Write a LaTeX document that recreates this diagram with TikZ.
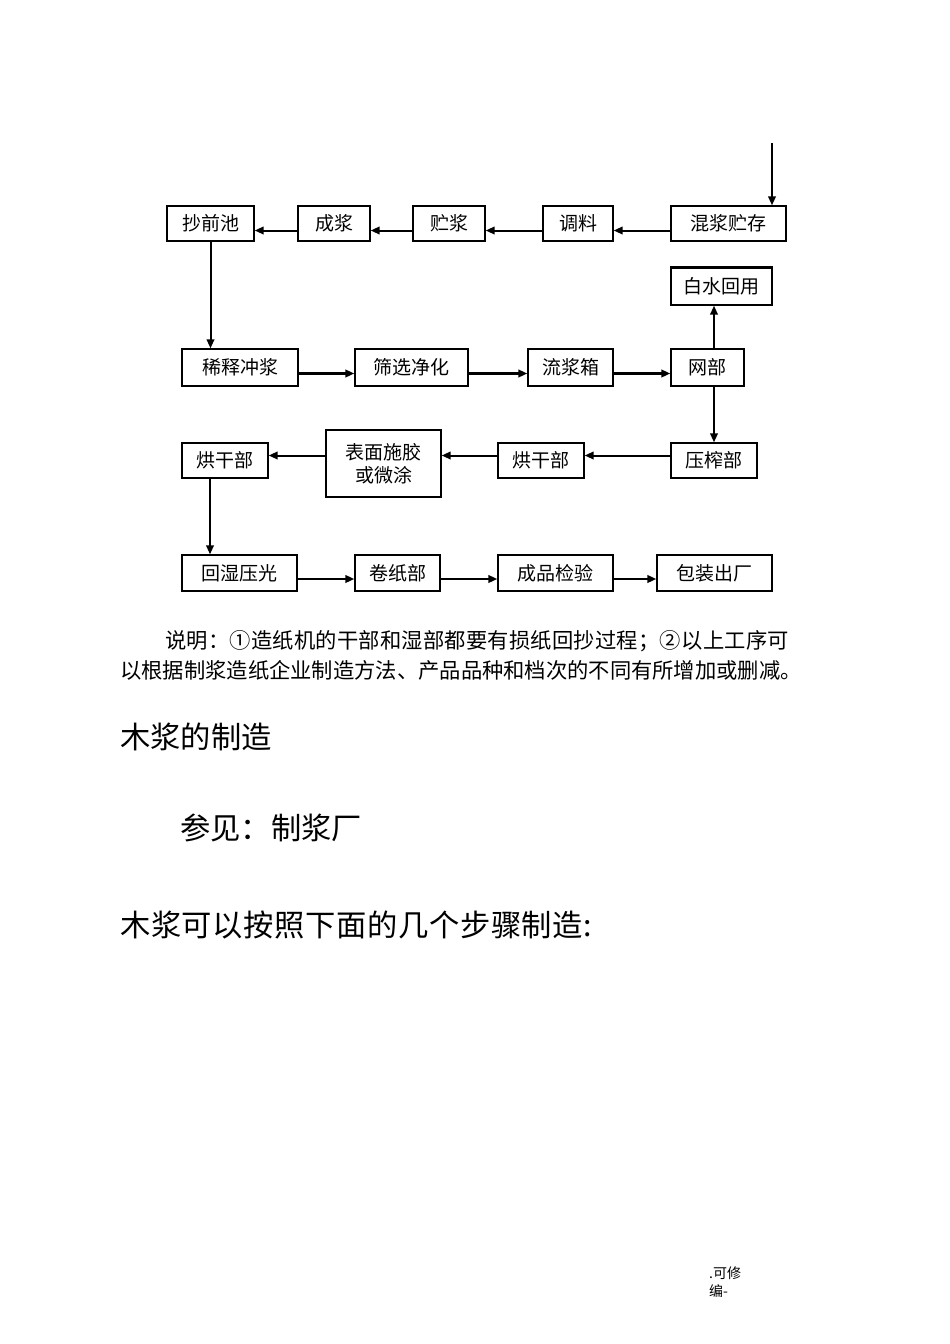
\documentclass[tikz,border=0pt]{standalone}
\usepackage{fontspec}
\setmainfont{Liberation Serif}
\newfontfamily\cjk{Noto Sans CJK SC}
\newfontfamily\cjkwide[LetterSpace=1.0]{Noto Sans CJK SC}
\newfontfamily\cjkhead[LetterSpace=2]{Noto Sans CJK SC}
\usetikzlibrary{arrows.meta}
\begin{document}
\begin{tikzpicture}[x=1pt,y=-1pt,
  box/.style={draw,line width=1.3pt,inner sep=0pt,align=center,font=\cjk\fontsize{19}{23}\selectfont},
  flow/.style={line width=2pt,-{Triangle[length=9pt,width=7.5pt]}},
  bold flow/.style={flow,line width=2.6pt},
  note/.style={anchor=west,inner sep=0pt,font=\cjk\fontsize{21.3}{25}\selectfont},
  head/.style={anchor=west,inner sep=0pt,font=\cjk\fontsize{30.3}{36}\selectfont},
  foot/.style={anchor=west,inner sep=0pt,font=\cjk\fontsize{14}{17}\selectfont}]
\fill[white] (0,0) rectangle (950,1344);
\useasboundingbox (0,0) rectangle (950,1344);

% row 1
\node[box,minimum width=87pt,minimum height=35pt] (cqc) at (210.5,223.5) {抄前池};
\node[box,minimum width=72pt,minimum height=35pt] (cj) at (334,223.5) {成浆};
\node[box,minimum width=72pt,minimum height=35pt] (zj) at (449,223.5) {贮浆};
\node[box,minimum width=70pt,minimum height=35pt] (tl) at (578,223.5) {调料};
\node[box,minimum width=115pt,minimum height=35pt] (hj) at (728.5,223.5) {混浆贮存};
\coordinate (in) at (772,143);

% row 2
\node[box,minimum width=116pt,minimum height=37pt] (xs) at (240,367.5) {稀释冲浆};
\node[box,minimum width=113pt,minimum height=37pt] (sx) at (411.5,367.5) {筛选净化};
\node[box,minimum width=85pt,minimum height=37pt] (ljx) at (570.5,367.5) {流浆箱};
\node[box,minimum width=73pt,minimum height=37pt] (wb) at (707.5,367.5) {网部};
\node[box,minimum width=101pt,minimum height=37pt] (bs) at (721.5,286.5) {白水回用};
\draw[line width=2.6pt] (bs.north west) -- (bs.north east);

% row 3
\node[box,minimum width=86pt,minimum height=35pt] (hg1) at (225,460.5) {烘干部};
\node[box,minimum width=115pt,minimum height=67pt] (bm) at (383.5,463.5) {表面施胶\\或微涂};
\node[box,minimum width=86pt,minimum height=35pt] (hg2) at (541,460.5) {烘干部};
\node[box,minimum width=86pt,minimum height=35pt] (yz) at (714,460.5) {压榨部};

% row 4
\node[box,minimum width=115pt,minimum height=36pt] (hs) at (239.5,573) {回湿压光};
\node[box,minimum width=85pt,minimum height=36pt] (jz) at (397.5,573) {卷纸部};
\node[box,minimum width=115pt,minimum height=36pt] (cp) at (555.5,573) {成品检验};
\node[box,minimum width=115pt,minimum height=36pt] (bz) at (714.5,573) {包装出厂};

% connectors
\draw[flow] (in) -- (in |- hj.north);
\draw[flow] ([yshift=-7pt]hj.west) -- ([yshift=-7pt]tl.east);
\draw[flow] ([yshift=-7pt]tl.west) -- ([yshift=-7pt]zj.east);
\draw[flow] ([yshift=-7pt]zj.west) -- ([yshift=-7pt]cj.east);
\draw[flow] ([yshift=-7pt]cj.west) -- ([yshift=-7pt]cqc.east);
\draw[flow] (cqc.south) -- (cqc.south |- xs.north);
\draw[bold flow] ([yshift=-6pt]xs.east) -- ([yshift=-6pt]sx.west);
\draw[bold flow] ([yshift=-6pt]sx.east) -- ([yshift=-6pt]ljx.west);
\draw[bold flow] ([yshift=-6pt]ljx.east) -- ([yshift=-6pt]wb.west);
\draw[flow] (yz.north |- wb.north) -- (yz.north |- bs.south);
\draw[flow] (yz.north |- wb.south) -- (yz.north);
\draw[flow] ([yshift=5pt]yz.west) -- ([yshift=5pt]hg2.east);
\draw[flow] ([yshift=5pt]hg2.west) -- ([yshift=5pt]hg2.west -| bm.east);
\draw[flow] ([yshift=5pt]hg1.east -| bm.west) -- ([yshift=5pt]hg1.east);
\draw[flow] ([xshift=-15pt]hg1.south) -- ([xshift=-15pt]hg1.south |- hs.north);
\draw[bold flow] ([yshift=-6pt]hs.east) -- ([yshift=-6pt]jz.west);
\draw[bold flow] ([yshift=-6pt]jz.east) -- ([yshift=-6pt]cp.west);
\draw[bold flow] ([yshift=-6pt]cp.east) -- ([yshift=-6pt]bz.west);

% text
\node[note,font=\cjkwide\fontsize{21.3}{25}\selectfont] (n1) at (165,641) {说明：①造纸机的干部和湿部都要有损纸回抄过程；②以上工序可};
\node[note] (n2) at (120,670) {以根据制浆造纸企业制造方法、产品品种和档次的不同有所增加或删减。};
\node[head] (h1) at (120,737) {木浆的制造};
\node[head] (h2) at (180,828) {参见：制浆厂};
\node[head,font=\cjkhead\fontsize{30.3}{36}\selectfont] (h3) at (120,925) {木浆可以按照下面的几个步骤制造:};
\node[foot] (f1) at (709,1273) {.可修};
\node[foot] (f2) at (709,1291) {编-};
\end{tikzpicture}
\end{document}
